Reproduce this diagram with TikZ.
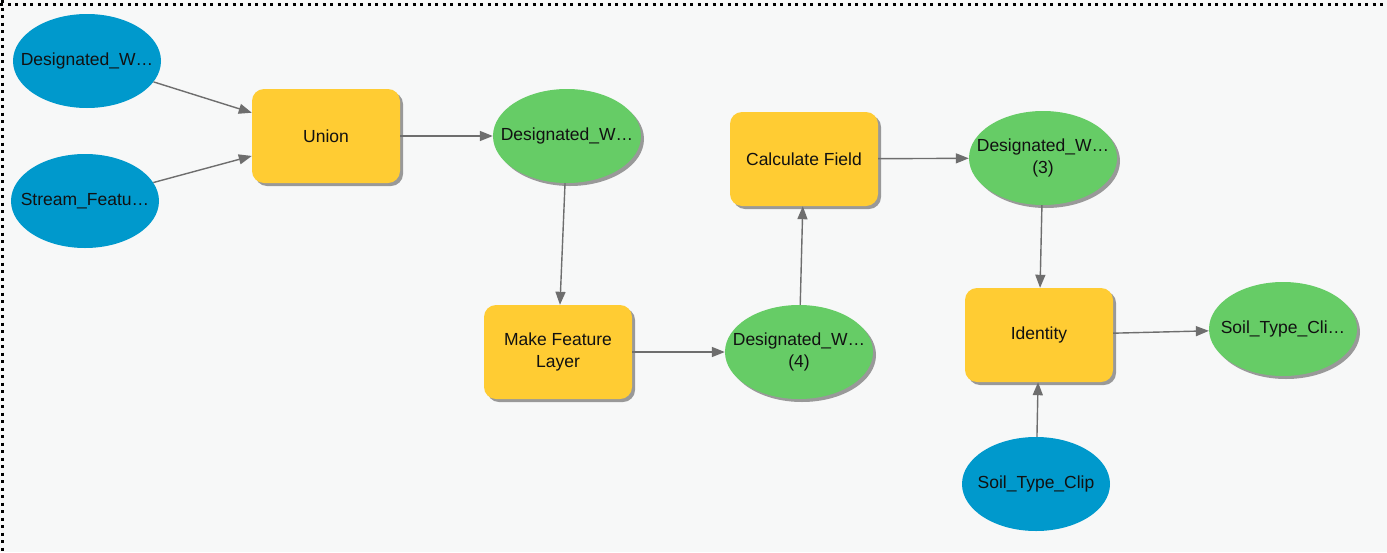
\documentclass[tikz,border=0pt]{standalone}
\usepackage{fontspec}
\setmainfont{Liberation Sans}
\usetikzlibrary{shapes.geometric,arrows.meta,shadows}
\definecolor{bgc}{HTML}{F7F8F8}
\definecolor{bluec}{HTML}{0099CC}
\definecolor{greenc}{HTML}{66CC66}
\definecolor{yellowc}{HTML}{FFCC33}
\definecolor{linec}{HTML}{6E6E6E}
\definecolor{txtc}{HTML}{111111}
\newcommand{\zw}[1]{\makebox[0pt]{\begin{tabular}{@{}c@{}}#1\end{tabular}}}
\tikzset{
  base/.style={font=\fontsize{17.5}{22}\selectfont, text=txtc, inner sep=0pt, minimum width=148pt, minimum height=94pt},
  inputel/.style={base, ellipse, fill=bluec},
  outel/.style={base, ellipse, fill=greenc, drop shadow={shadow xshift=3pt,shadow yshift=-3pt,fill=black!40,opacity=1}},
  toolbox/.style={base, rounded corners=12pt, fill=yellowc, align=center, drop shadow={shadow xshift=3pt,shadow yshift=-3pt,fill=black!40,opacity=1}},
  conn/.style={draw=linec, line width=1.4pt, -{Triangle[length=13pt,width=10pt]}},
  frameline/.style={line width=3pt, dash pattern=on 3pt off 4.5pt}
}
\begin{document}
\begin{tikzpicture}[x=1pt,y=-1pt]
\useasboundingbox (0,0) rectangle (1387,552);
\fill[bgc] (0,0) rectangle (1387,552);
\coordinate (tl) at (0,4);
\coordinate (tr) at (1387,4);
\coordinate (lt) at (2,0);
\coordinate (lb) at (2,552);
\draw[frameline] (tl) -- (tr);
\draw[frameline] (lt) -- (lb);

\node[inputel] (b1) at (87,61) {\zw{Designated\_W…}};
\node[inputel] (b2) at (85,201) {\zw{Stream\_Featu…}};
\node[toolbox] (un) at (326,136) {Union};
\node[outel] (g1) at (567,136) {\zw{Designated\_W…}};
\node[toolbox] (mfl) at (558,352) {Make Feature\\Layer};
\node[outel] (g4) at (799,352) {\zw{Designated\_W…\\(4)}};
\node[toolbox] (cf) at (804,159) {Calculate Field};
\node[outel] (g3) at (1043,158) {\zw{Designated\_W…\\(3)}};
\node[toolbox] (id) at (1039,335) {Identity};
\node[outel] (g5) at (1283,329) {\zw{Soil\_Type\_Cli…}};
\node[inputel] (b3) at (1036,484) {\zw{Soil\_Type\_Clip}};

\draw[conn] (b1) -- (un);
\draw[conn] (b2) -- (un);
\draw[conn] (un) -- (g1);
\draw[conn] (g1) -- (mfl);
\draw[conn] (mfl) -- (g4);
\draw[conn] (g4) -- (cf);
\draw[conn] (cf) -- (g3);
\draw[conn] (g3) -- (id);
\draw[conn] (id) -- (g5);
\draw[conn] (b3) -- (id);
\end{tikzpicture}
\end{document}
